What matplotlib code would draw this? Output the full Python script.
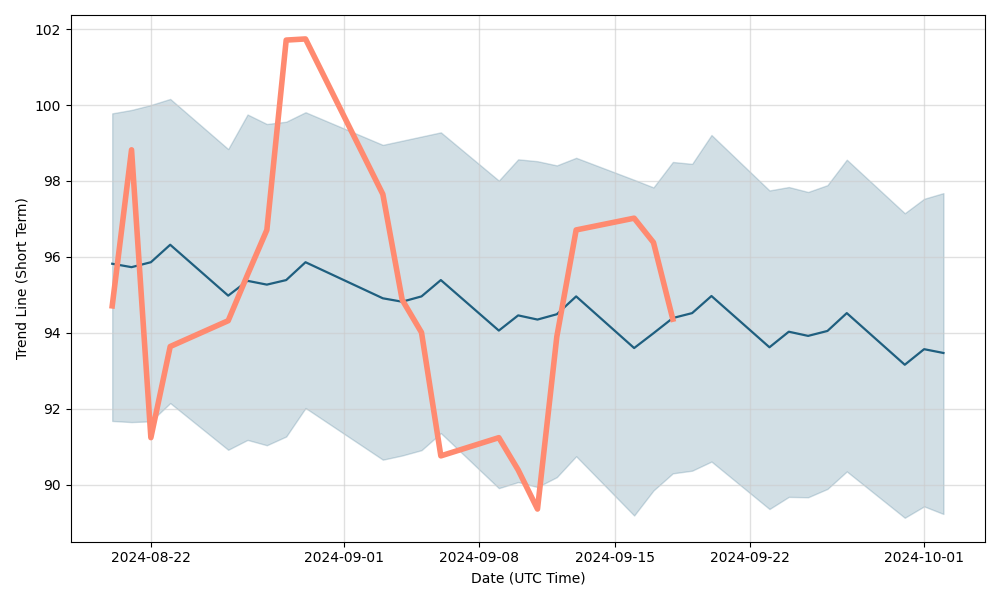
import matplotlib
matplotlib.use("Agg")
import matplotlib.pyplot as plt
import pandas as pd

# trading days shown on the chart
dates = pd.to_datetime([
    "2024-08-20", "2024-08-21", "2024-08-22", "2024-08-23",
    "2024-08-26", "2024-08-27", "2024-08-28", "2024-08-29", "2024-08-30",
    "2024-09-03", "2024-09-04", "2024-09-05", "2024-09-06",
    "2024-09-09", "2024-09-10", "2024-09-11", "2024-09-12", "2024-09-13",
    "2024-09-16", "2024-09-17", "2024-09-18", "2024-09-19", "2024-09-20",
    "2024-09-23", "2024-09-24", "2024-09-25", "2024-09-26", "2024-09-27",
    "2024-09-30", "2024-10-01", "2024-10-02",
])

trend = [
    95.82, 95.73, 95.86, 96.32,
    94.98, 95.37, 95.27, 95.39, 95.86,
    94.91, 94.82, 94.96, 95.39,
    94.06, 94.46, 94.35, 94.49, 94.96,
    93.60, 93.99, 94.39, 94.52, 94.97,
    93.62, 94.03, 93.92, 94.05, 94.52,
    93.16, 93.57, 93.47,
]

upper = [
    99.78, 99.87, 100.00, 100.16,
    98.84, 99.75, 99.50, 99.56, 99.81,
    98.95, 99.06, 99.17, 99.28,
    98.01, 98.57, 98.52, 98.41, 98.61,
    98.03, 97.83, 98.50, 98.45, 99.21,
    97.75, 97.84, 97.71, 97.89, 98.56,
    97.15, 97.53, 97.68,
]

lower = [
    91.68, 91.65, 91.67, 92.15,
    90.92, 91.18, 91.04, 91.27, 92.02,
    90.66, 90.77, 90.91, 91.36,
    89.91, 90.07, 89.94, 90.20, 90.75,
    89.19, 89.85, 90.30, 90.37, 90.61,
    89.36, 89.68, 89.67, 89.89, 90.35,
    89.13, 89.43, 89.23,
]

# actual values stop at 2024-09-18
actual = [
    94.71, 98.82, 91.24, 93.64,
    94.32, 95.53, 96.71, 101.71, 101.74,
    97.65, 94.87, 94.01, 90.76,
    91.24, 90.39, 89.36, 93.90, 96.71,
    97.02, 96.38, 94.36,
]

blue = "#1f5f7f"
salmon = "#ff8a70"

fig, ax = plt.subplots(figsize=(10, 6), dpi=100)
ax.fill_between(dates, lower, upper, color=blue, alpha=0.2)
ax.plot(dates, trend, color=blue, linewidth=1.6)
ax.plot(dates[:len(actual)], actual, color=salmon, linewidth=4)

ax.grid(True, color="#cccccc", alpha=0.6, linewidth=1)
ax.set_xlabel("Date (UTC Time)")
ax.set_ylabel("Trend Line (Short Term)")
fig.tight_layout()
fig.savefig("out.png", dpi=100)
